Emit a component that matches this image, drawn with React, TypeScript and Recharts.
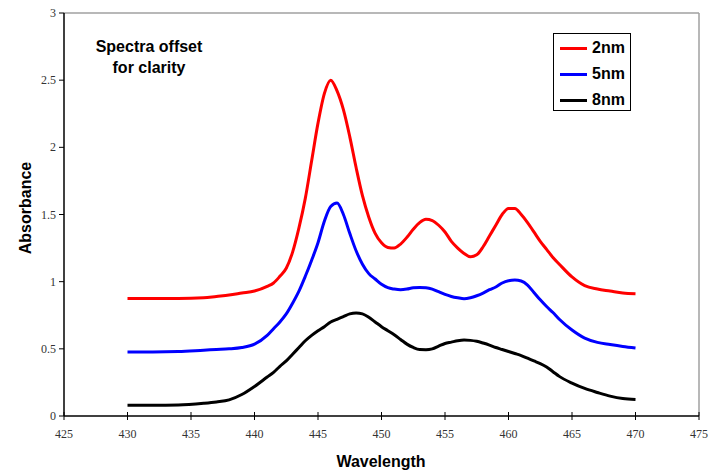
import React from 'react';
import { LineChart, Line, XAxis, YAxis, ReferenceLine } from 'recharts';

const wavelength = [
  430, 432, 434, 436, 437, 438, 439, 440, 441,
  441.5, 442, 442.5, 443, 443.5, 444, 444.5, 445, 445.5, 446, 446.5, 447, 447.5,
  448, 448.5, 449, 449.5, 450, 450.5, 451, 451.5, 452, 452.5, 453, 453.5, 454,
  454.5, 455, 455.5, 456, 456.5, 457, 457.5, 458, 458.5, 459, 459.5, 460, 460.5,
  461, 461.5, 462, 462.5, 463, 463.5, 464,
  465, 466, 467, 468, 469, 470,
];

const slit2nm = [
  0.875, 0.875, 0.875, 0.88, 0.89, 0.9, 0.915, 0.93, 0.965,
  0.99, 1.04, 1.1, 1.22, 1.4, 1.62, 1.9, 2.18, 2.4, 2.5, 2.42, 2.28, 2.08,
  1.85, 1.64, 1.48, 1.36, 1.29, 1.255, 1.25, 1.28, 1.33, 1.39, 1.44, 1.465, 1.455,
  1.42, 1.37, 1.3, 1.25, 1.21, 1.185, 1.2, 1.26, 1.34, 1.42, 1.5, 1.545, 1.545,
  1.5, 1.44, 1.37, 1.3, 1.24, 1.18, 1.13,
  1.035, 0.97, 0.945, 0.93, 0.915, 0.91,
];

const slit5nm = [
  0.477, 0.477, 0.48, 0.49, 0.495, 0.5, 0.51, 0.535, 0.6,
  0.65, 0.7, 0.76, 0.84, 0.93, 1.04, 1.16, 1.29, 1.45, 1.56, 1.585, 1.5, 1.36,
  1.23, 1.13, 1.06, 1.02, 0.98, 0.955, 0.945, 0.94, 0.945, 0.955, 0.957, 0.955, 0.945,
  0.925, 0.905, 0.89, 0.88, 0.873, 0.88, 0.895, 0.915, 0.94, 0.96, 0.99, 1.007, 1.012,
  1.005, 0.975, 0.92, 0.865, 0.815, 0.77, 0.72,
  0.64, 0.58, 0.548, 0.532, 0.518, 0.507,
];

const slit8nm = [
  0.08, 0.08, 0.082, 0.095, 0.105, 0.12, 0.16, 0.22, 0.29,
  0.325, 0.37, 0.41, 0.46, 0.51, 0.56, 0.6, 0.635, 0.665, 0.7, 0.72, 0.74, 0.76,
  0.767, 0.76, 0.735, 0.7, 0.665, 0.635, 0.605, 0.57, 0.535, 0.51, 0.495, 0.494, 0.5,
  0.52, 0.54, 0.55, 0.56, 0.565, 0.563, 0.556, 0.543, 0.528, 0.51, 0.495, 0.48, 0.465,
  0.45, 0.43, 0.41, 0.39, 0.365, 0.33, 0.295,
  0.245, 0.205, 0.175, 0.148, 0.13, 0.123,
];

const xTicks = [425, 430, 435, 440, 445, 450, 455, 460, 465, 470, 475];
const yTicks = [0, 0.5, 1, 1.5, 2, 2.5, 3];

const series = [
  { key: 's2', name: '2nm', color: '#ff0000' },
  { key: 's5', name: '5nm', color: '#0000ff' },
  { key: 's8', name: '8nm', color: '#000000' },
];

const data = wavelength.map((w, i) => ({
  w,
  s2: slit2nm[i],
  s5: slit5nm[i],
  s8: slit8nm[i],
}));

const serif = '"Liberation Serif", "Times New Roman", serif';
const sans = '"Liberation Sans", Arial, sans-serif';

const XTick = (props: any) => {
  const { x, y, payload } = props;
  return (
    <g>
      <line x1={x} x2={x} y1={y - 4} y2={y + 4} stroke="#000" strokeWidth={1} />
      <text x={x} y={y + 22} textAnchor="middle" style={{ fontFamily: serif, fontSize: 12 }} fill="#333">
        {payload.value}
      </text>
    </g>
  );
};

const YTick = (props: any) => {
  const { x, y, payload } = props;
  return (
    <g>
      <line x1={x - 5} x2={x} y1={y} y2={y} stroke="#000" strokeWidth={1} />
      <text x={x - 8} y={y + 4} textAnchor="end" style={{ fontFamily: serif, fontSize: 12 }} fill="#333">
        {payload.value}
      </text>
    </g>
  );
};

const LegendBox = () => (
  <div
    style={{
      position: 'absolute',
      left: 553,
      top: 33,
      border: '1px solid #000',
      background: '#fff',
      width: 78,
      height: 78,
      boxSizing: 'border-box',
      padding: '1px 0 0 6px',
    }}
  >
    {series.map((s) => (
      <div key={s.key} style={{ display: 'flex', alignItems: 'center', height: 26 }}>
        <div style={{ width: 27, height: 3, background: s.color, marginRight: 5 }} />
        <span style={{ fontFamily: sans, fontWeight: 'bold', fontSize: 16, lineHeight: '16px', color: '#000' }}>
          {s.name}
        </span>
      </div>
    ))}
  </div>
);

export default function App() {
  return (
    <div style={{ position: 'absolute', left: 0, top: 0, width: 711, height: 475, background: '#fff' }}>
      <LineChart width={711} height={475} data={data} margin={{ top: 13, right: 12, bottom: 0, left: 0 }}>
        <XAxis
          dataKey="w"
          type="number"
          domain={[425, 475]}
          ticks={xTicks}
          height={59}
          tickSize={0}
          tickMargin={0}
          tickLine={false}
          tick={<XTick />}
          axisLine={{ stroke: '#000', strokeWidth: 1.5 }}
        />
        <YAxis
          type="number"
          domain={[0, 3]}
          ticks={yTicks}
          width={64}
          tickSize={0}
          tickMargin={0}
          tickLine={false}
          tick={<YTick />}
          axisLine={{ stroke: '#000', strokeWidth: 1.5 }}
        />
        <ReferenceLine y={3} stroke="#a0a0a0" strokeWidth={1.5} />
        <ReferenceLine x={475} stroke="#a0a0a0" strokeWidth={1.5} />
        {series.map((s) => (
          <Line
            key={s.key}
            dataKey={s.key}
            name={s.name}
            stroke={s.color}
            strokeWidth={3}
            dot={false}
            type="monotone"
            isAnimationActive={false}
          />
        ))}
      </LineChart>
      <LegendBox />
      <svg
        width={711}
        height={475}
        style={{ position: 'absolute', left: 0, top: 0, pointerEvents: 'none' }}
      >
        <text x={149} y={52} textAnchor="middle" fontFamily={sans} fontWeight="bold" fontSize={16} fill="#000">
          Spectra offset
        </text>
        <text x={149} y={73} textAnchor="middle" fontFamily={sans} fontWeight="bold" fontSize={16} fill="#000">
          for clarity
        </text>
        <text x={381} y={467} textAnchor="middle" fontFamily={sans} fontWeight="bold" fontSize={16} fill="#000">
          Wavelength
        </text>
        <text
          x={31}
          y={208}
          textAnchor="middle"
          fontFamily={sans}
          fontWeight="bold"
          fontSize={16}
          fill="#000"
          transform="rotate(-90 31 208)"
        >
          Absorbance
        </text>
      </svg>
    </div>
  );
}
